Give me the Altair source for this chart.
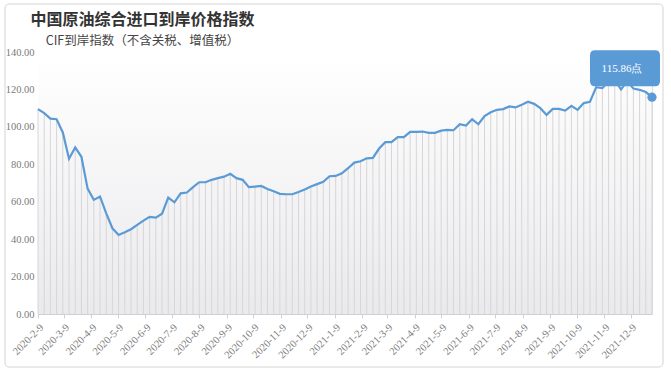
import altair as alt
import pandas as pd

# ---- data ----
start_date = "2020-02-09"
n_weeks = 100
index_values = [
    109.5, 107.3, 104.4, 104.1, 97.0, 83.0, 89.0, 84.0, 67.0, 61.0,
    62.8, 53.8, 45.8, 42.2, 43.7, 45.3, 47.6, 49.9, 51.9, 51.5,
    53.6, 62.2, 59.7, 64.5, 64.9, 67.8, 70.4, 70.4, 71.7, 72.6,
    73.4, 74.9, 72.6, 71.7, 67.8, 68.1, 68.4, 66.8, 65.6, 64.2,
    64.0, 64.0, 65.2, 66.5, 68.1, 69.4, 70.6, 73.6, 73.8, 75.2,
    77.9, 80.9, 81.6, 83.2, 83.4, 88.4, 91.8, 91.8, 94.5, 94.5,
    97.3, 97.3, 97.5, 96.8, 96.8, 98.0, 98.4, 98.2, 101.4, 100.7,
    104.1, 101.4, 105.7, 107.8, 109.1, 109.5, 110.9, 110.4, 111.8, 113.4,
    112.3, 110.0, 106.4, 109.6, 109.6, 108.7, 111.2, 109.1, 112.7, 113.4,
    121.2, 120.7, 124.5, 125.0, 120.0, 124.3, 120.5, 119.8, 118.6, 115.86,
]
y_ticks = [0, 20, 40, 60, 80, 100, 120, 140]
x_tick_dates = [f"{y}-{m:02d}-09" for y in (2020, 2021) for m in range(1, 13)
                if not (y == 2020 and m == 1)]

title_text = "中国原油综合进口到岸价格指数"
subtitle_text = "CIF到岸指数（不含关税、增值税）"
unit_suffix = "点"

dates = pd.date_range(start_date, periods=n_weeks, freq="7D")
df = pd.DataFrame({"date": dates.strftime("%Y-%m-%d"), "value": index_values})
last = df.iloc[[-1]].copy()
bg = pd.DataFrame({"x": [df["date"].iloc[0]], "x2": [df["date"].iloc[-1]],
                   "y": [0], "y2": [max(y_ticks)]})
titles = pd.DataFrame({"t": [title_text], "s": [subtitle_text]})

tick_ms = [int(pd.Timestamp(d, tz="UTC").value // 10**6) for d in x_tick_dates]

BLUE = "#5B9BD5"
W, H = 614, 262

x_scale = alt.Scale(type="utc", domain=[df["date"].iloc[0], df["date"].iloc[-1]], nice=False)
y_scale = alt.Scale(domain=[0, 140], nice=False)

x_axis = alt.Axis(values=tick_ms, labelExpr="utcFormat(datum.value, '%Y-%-m-%-d')",
                  labelAngle=-45, labelFont="Liberation Serif", labelFontSize=10.5,
                  labelColor="#7a7a7a", domainColor="#d0d0d0", tickColor="#d0d0d0",
                  tickSize=4, labelPadding=4, grid=False, title=None, labelOverlap=False)
y_axis = alt.Axis(values=y_ticks, format=".2f", labelFont="Liberation Serif",
                  labelFontSize=10.5, labelColor="#7a7a7a", domain=False, ticks=False,
                  grid=False, title=None, labelPadding=4)

X = alt.X("date:T", scale=x_scale, axis=x_axis)
Y = alt.Y("value:Q", scale=y_scale, axis=y_axis)

gradient = alt.LinearGradient(
    gradient="linear",
    stops=[alt.GradientStop(color="#ffffff", offset=0),
           alt.GradientStop(color="#eaeaed", offset=1)],
    x1=0, x2=0, y1=0, y2=1,
)

background = alt.Chart(bg).mark_rect(color=gradient).encode(
    x=alt.X("x:T", scale=x_scale, axis=x_axis), x2="x2:T",
    y=alt.Y("y:Q", scale=y_scale, axis=y_axis), y2="y2:Q",
)

frame = alt.Chart(bg).mark_rect(fillOpacity=0, stroke="#d4d4d4", strokeWidth=1,
                                cornerRadius=4).encode(
    x=alt.value(-33), x2=alt.value(625), y=alt.value(-48), y2=alt.value(315)
)

title_mark = alt.Chart(titles).mark_text(
    font="Noto Sans CJK SC", fontSize=16, fontWeight="bold", color="#333333",
    align="center", baseline="middle",
).encode(x=alt.value(104.5), y=alt.value(-32), text="t:N")

subtitle_mark = alt.Chart(titles).mark_text(
    font="Noto Sans CJK SC", fontSize=12.5, color="#444444",
    align="center", baseline="middle",
).encode(x=alt.value(104.5), y=alt.value(-11), text="s:N")

drops = alt.Chart(df).mark_rule(color="#d6d6d8", strokeWidth=1).encode(
    x=X, y=Y, y2=alt.datum(0)
)

line = alt.Chart(df).mark_line(color=BLUE, strokeWidth=2.2).encode(x=X, y=Y)

end_point = alt.Chart(last).mark_point(filled=True, color=BLUE, size=85, opacity=1).encode(
    x=X, y=Y
)

r = 35.0
hh = 18.0 / r
cr = 5.0 / r
box_path = (f"M {-1+cr},{-hh} L {1-cr},{-hh} Q 1,{-hh} 1,{-hh+cr} L 1,{hh-cr} "
            f"Q 1,{hh} {1-cr},{hh} L {-1+cr},{hh} Q -1,{hh} -1,{hh-cr} "
            f"L -1,{-hh+cr} Q -1,{-hh} {-1+cr},{-hh} Z")

callout_box = alt.Chart(last).mark_point(
    shape=box_path, size=(2 * r) ** 2, filled=True, color=BLUE, opacity=1,
    xOffset=-27, yOffset=-29,
).encode(x=X, y=Y)

callout_text = alt.Chart(last).transform_calculate(
    label=f"format(datum.value, '.2f') + '{unit_suffix}'"
).mark_text(color="white", font="Liberation Serif", fontSize=11, dx=-30, dy=-28).encode(
    x=X, y=Y, text="label:N"
)

chart = alt.layer(
    background, frame, title_mark, subtitle_mark, drops, line, end_point,
    callout_box, callout_text
).properties(
    width=W, height=H,
    padding={"left": 38, "top": 52, "right": 19, "bottom": 62},
    autosize=alt.AutoSizeParams(type="none"),
).configure_view(stroke=None).configure(background="white")

chart.save("out.html", embed_options={"renderer": "svg", "actions": False})
